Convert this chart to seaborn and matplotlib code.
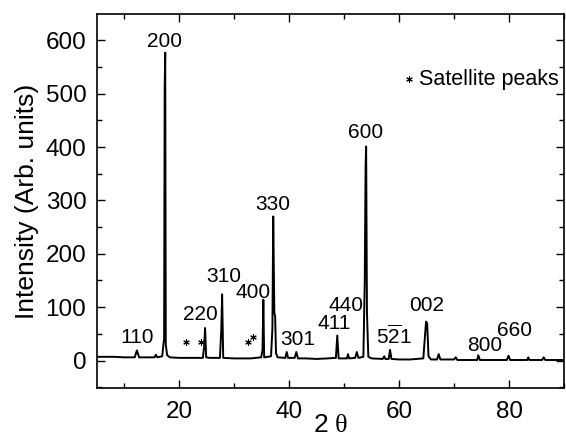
import matplotlib
matplotlib.use('Agg')
import matplotlib.pyplot as plt
from matplotlib.ticker import MultipleLocator
import seaborn as sns
import pandas as pd

# XRD trace (2θ in degrees, intensity in arb. units)
two_theta = [5, 8, 10, 11.9, 12.3, 12.7, 14, 15.5, 15.75, 16.0, 16.9, 17.15, 17.25, 17.35, 17.45, 17.55, 17.8, 18.3,
             20, 22, 24.3, 24.55, 24.7, 24.9, 25.5, 27.4, 27.65, 27.8, 28.0, 30, 33, 34.9, 35.15, 35.3, 35.45,
             36.7, 36.95, 37.1, 37.3, 37.45, 37.6, 37.9, 39.3, 39.55, 39.8, 41.0, 41.3, 41.6, 43, 45, 47,
             48.5, 48.75, 49.0, 50.5, 50.7, 50.9, 52.0, 52.3, 52.6, 53.5, 53.75, 53.9, 54.0, 54.15, 54.4, 55,
             57.0, 57.3, 57.5, 58.1, 58.35, 58.6, 60, 62, 64.4, 64.7, 64.9, 65.1, 65.35, 65.8, 66.9, 67.2, 67.5,
             70, 70.3, 70.6, 72, 74.2, 74.4, 74.7, 76, 79.6, 79.9, 80.2, 83.3, 83.5, 83.7, 86, 86.3, 86.6, 88, 90]
intensity = [7, 7, 6, 6, 19, 6, 6, 6, 11, 6, 8, 33, 40, 510, 577, 30, 10, 6,
             5, 5, 5, 28, 61, 6, 5, 5, 58, 124, 5, 4, 4, 6, 20, 114, 6,
             8, 60, 270, 90, 82, 14, 6, 5, 16, 5, 5, 16, 4, 4, 3, 4,
             5, 47, 4, 4, 12, 4, 5, 16, 5, 7, 150, 361, 401, 90, 7, 4,
             3, 8, 3, 3, 20, 3, 2, 2, 4, 45, 73, 70, 8, 2, 2, 12, 2,
             2, 6, 1, 1, 1, 10, 1, 1, 1, 9, 1, 1, 6, 1, 1, 6, 1, 1, 1]

peak_labels = ["110", "200", "220", "310", "400", "330", "301", "411", "440", "600",
               r"$\mathrm{5\overline{2}1}$", "002", "800", "660"]
label_x = [12.3, 17.3, 23.8, 28.1, 33.5, 37.1, 41.5, 48.1, 50.3, 53.9, 59.1, 65.0, 75.5, 81.0]
label_y = [44, 598, 87, 157, 128, 293, 39, 69, 104, 427, 45, 104, 28, 56]

star_x = [21.3, 24.0, 32.6, 33.4]
star_y = [34, 34, 34, 45]

sns.set_style('ticks')
plt.rcParams['font.family'] = ['Liberation Sans', 'DejaVu Sans']
plt.rcParams['mathtext.fontset'] = 'custom'
plt.rcParams['mathtext.rm'] = 'Liberation Sans'
plt.rcParams['mathtext.it'] = 'Liberation Serif'
for k in ['text.color', 'axes.labelcolor', 'xtick.color', 'ytick.color', 'axes.edgecolor']:
    plt.rcParams[k] = 'black'

fig = plt.figure(figsize=(5.66, 4.42), dpi=100)
ax = fig.add_axes([0.171, 0.1215, 0.8255, 0.8465])

df = pd.DataFrame({'two_theta': two_theta, 'intensity': intensity})
sns.lineplot(data=df, x='two_theta', y='intensity', ax=ax, color='black', lw=1.4,
             sort=False, estimator=None)

ax.scatter(star_x, star_y, marker=(6, 2, 0), s=16, color='black', linewidths=0.8, zorder=3)

for t, x, y in zip(peak_labels, label_x, label_y):
    ax.text(x, y, t, ha='center', va='center', fontsize=15, color='black')

# legend-like note
ax.scatter([61.8], [527], marker=(6, 2, 0), s=16, color='black', linewidths=0.8, zorder=3)
ax.text(63.6, 527, "Satellite peaks", ha='left', va='center', fontsize=15.5, color='black')

ax.set_xlim(5, 90)
ax.set_ylim(-52, 649)
ax.xaxis.set_major_locator(MultipleLocator(20))
ax.xaxis.set_minor_locator(MultipleLocator(10))
ax.yaxis.set_major_locator(MultipleLocator(100))
ax.yaxis.set_minor_locator(MultipleLocator(50))

ax.tick_params(which='both', direction='in', top=True, right=True, width=1.0, color='black')
ax.tick_params(which='major', length=6)
ax.tick_params(which='minor', length=3.5)
ax.tick_params(axis='x', labelsize=17.5, pad=9.5)
ax.tick_params(axis='y', labelsize=17.5, pad=7.5)
for s in ax.spines.values():
    s.set_linewidth(1.2)
    s.set_color('black')

ax.set_xlabel(r"2 $\theta$", fontsize=19)
ax.set_ylabel("Intensity (Arb. units)", fontsize=19)
ax.xaxis.set_label_coords(0.5, -0.067)
ax.yaxis.set_label_coords(-0.124, 0.5)

fig.savefig('out.png', dpi=100)
